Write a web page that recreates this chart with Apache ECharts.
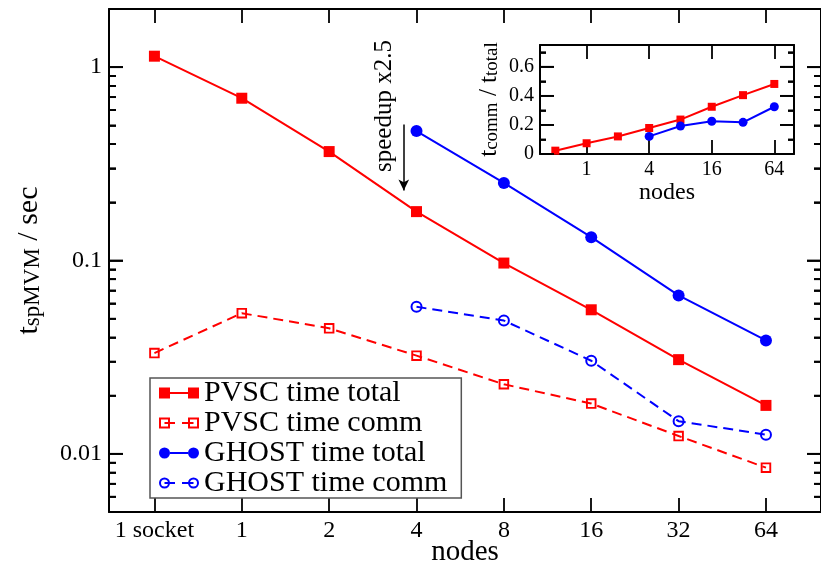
<!DOCTYPE html>
<html>
<head>
<meta charset="utf-8">
<script src="https://cdn.jsdelivr.net/npm/echarts@6/dist/echarts.min.js"></script>
<style>
  html, body { margin: 0; padding: 0; background: #fff; }
  #chart { width: 821px; height: 572px; }
</style>
</head>
<body>
<div id="chart"></div>
<script>
// ---- data ----
const nodeLabels = ['1 socket', '1', '2', '4', '8', '16', '32', '64'];
const pvscTotal  = [1.14, 0.691, 0.366, 0.179, 0.097, 0.0556, 0.0307, 0.0178];
const pvscComm   = [0.0332, 0.0534, 0.0446, 0.0322, 0.0229, 0.0182, 0.01236, 0.00848];
const ghostTotal = [null, null, null, 0.467, 0.252, 0.132, 0.066, 0.0386];
const ghostComm  = [null, null, null, 0.0576, 0.0489, 0.0303, 0.01475, 0.01256];

// inset: node count (one socket = half a node) vs. t_comm / t_total
const insetNodes = [0.5, 1, 2, 4, 8, 16, 32, 64];
const pvscRatio  = [0.023, 0.074, 0.121, 0.179, 0.237, 0.325, 0.405, 0.482];
const ghostRatio = [null, null, null, 0.121, 0.193, 0.225, 0.218, 0.325];

// tick positions
const mainXTicks  = [0, 1, 2, 3, 4, 5, 6, 7];
const mainYMajor  = [0.01, 0.1, 1];
const insetXTicks = [1, 4, 16, 64];
const insetYMajor = [0, 0.2, 0.4, 0.6];
const insetYMinor = [0.1, 0.3, 0.5, 0.7];

// speedup arrow (data coordinates of the main plot)
const arrowX = 2.854, arrowFrom = 0.505, arrowTo = 0.23;

// ---- axis ranges ----
const MAIN_X = [-0.52, 7.63], MAIN_Y = [0.005, 2];
const INSET_X = [0.356, 99], INSET_Y = [0, 0.75];

// ---- helpers ----
const serif = '"Liberation Serif", "Times New Roman", serif';
const RED = '#ff0000', BLUE = '#0000ff';

const mainYMinor = [];
[0.001, 0.01, 0.1, 1].forEach(d => {
  for (let k = 2; k <= 9; k++) {
    const v = +(d * k).toPrecision(3);
    if (v >= MAIN_Y[0] && v <= MAIN_Y[1]) mainYMinor.push(v);
  }
});

const line = () => ({ show: true, onZero: false, lineStyle: { color: '#000', width: 2 } });
const noLine = () => ({ show: false, onZero: false });
function ticks(values, len) {
  return { show: true, inside: true, length: len, customValues: values.slice(),
           lineStyle: { color: '#000', width: 1.8 } };
}
const noLabel = () => ({ show: false });
const noSplit = () => ({ show: false });

// y-axis tick marks on both frame sides: [x at frame edge, value, length, direction]
function frameTicks(xRange, major, minor, majLen, minLen) {
  const out = [];
  [[xRange[0], 1], [xRange[1], -1]].forEach(([x, dir]) => {
    major.forEach(v => out.push([x, v, majLen, dir]));
    minor.forEach(v => out.push([x, v, minLen, dir]));
  });
  return out;
}
function tickRenderer(params, api) {
  const p = api.coord([api.value(0), api.value(1)]);
  const len = api.value(2), dir = api.value(3);
  return { type: 'rect', silent: true,
           shape: { x: dir > 0 ? p[0] : p[0] - len, y: p[1] - 0.9, width: len, height: 1.8 },
           style: { fill: '#000' } };
}

function logY(grid, pos, extra) {
  return Object.assign({ gridIndex: grid, type: 'log', logBase: 10, position: pos,
    min: MAIN_Y[0], max: MAIN_Y[1], splitLine: noSplit(), minorTick: { show: false },
    minorSplitLine: { show: false } }, extra);
}
function linY(grid, pos, extra) {
  return Object.assign({ gridIndex: grid, type: 'value', position: pos,
    min: INSET_Y[0], max: INSET_Y[1], splitLine: noSplit(), minorSplitLine: { show: false } }, extra);
}

const hollowSquare = 'path://M0,0H10V10H0Z M1.8,1.8V8.2H8.2V1.8Z';
const hollowCircle = 'path://M0,6A6,6 0 1,1 12,6A6,6 0 1,1 0,6Z M2,6A4,4 0 1,0 10,6A4,4 0 1,0 2,6Z';

// legend icons: symbol - line - symbol
const iconFilledSquare = 'path://M0,0H11V11H0Z M11,4.5H29V6.5H11Z M29,0H40V11H29Z';
const iconHollowSquare = 'path://M0,0H11V11H0Z M2,2V9H9V2Z M5.5,4.5H16V6.5H5.5Z M23,4.5H34.5V6.5H23Z M29,0H40V11H29Z M31,2V9H38V2Z';
const iconFilledCircle = 'path://M0,5.5A5.5,5.5 0 1,1 11,5.5A5.5,5.5 0 1,1 0,5.5Z M11,4.5H29V6.5H11Z M29,5.5A5.5,5.5 0 1,1 40,5.5A5.5,5.5 0 1,1 29,5.5Z';
const iconHollowCircle = 'path://M0,5.5A5.5,5.5 0 1,1 11,5.5A5.5,5.5 0 1,1 0,5.5Z M2,5.5A3.5,3.5 0 1,0 9,5.5A3.5,3.5 0 1,0 2,5.5Z M5.5,4.5H16V6.5H5.5Z M23,4.5H34.5V6.5H23Z M29,5.5A5.5,5.5 0 1,1 40,5.5A5.5,5.5 0 1,1 29,5.5Z M31,5.5A3.5,3.5 0 1,0 38,5.5A3.5,3.5 0 1,0 31,5.5Z';

const pairs = arr => arr.map((v, i) => [i, v]).filter(p => p[1] != null);
const insetPairs = arr => arr.map((v, i) => [insetNodes[i], v]).filter(p => p[1] != null);

const txt = { color: '#000', fontFamily: serif };

const chart = echarts.init(document.getElementById('chart'), null, { renderer: 'canvas' });

chart.setOption({
  animation: false,
  backgroundColor: '#fff',
  grid: [
    { left: 104, top: 9, width: 726, height: 508 },
    { left: 540, top: 45, width: 254, height: 109 }
  ],
  xAxis: [
    { gridIndex: 0, type: 'value', position: 'bottom', min: MAIN_X[0], max: MAIN_X[1],
      axisLine: line(), axisTick: ticks(mainXTicks, 14), splitLine: noSplit(),
      axisLabel: { customValues: mainXTicks.slice(), formatter: v => nodeLabels[v],
                   fontSize: 24, margin: 7, ...txt },
      name: 'nodes', nameLocation: 'middle', nameGap: 26, nameMoveOverlap: false,
      nameTextStyle: { fontSize: 29, ...txt } },
    { gridIndex: 0, type: 'value', position: 'top', min: MAIN_X[0], max: MAIN_X[1],
      axisLine: line(), axisTick: ticks(mainXTicks, 14), axisLabel: noLabel(), splitLine: noSplit() },
    { gridIndex: 1, type: 'log', logBase: 2, position: 'bottom', min: INSET_X[0], max: INSET_X[1],
      axisLine: line(), axisTick: ticks(insetXTicks, 14), splitLine: noSplit(), minorTick: { show: false },
      axisLabel: { customValues: insetXTicks.slice(), formatter: v => String(Math.round(v)),
                   fontSize: 20, margin: 6, ...txt },
      name: 'nodes', nameLocation: 'middle', nameGap: 26,
      nameTextStyle: { fontSize: 24, ...txt } },
    { gridIndex: 1, type: 'log', logBase: 2, position: 'top', min: INSET_X[0], max: INSET_X[1],
      axisLine: line(), axisTick: ticks(insetXTicks, 14), axisLabel: noLabel(), splitLine: noSplit(),
      minorTick: { show: false } }
  ],
  yAxis: [
    // main plot, log scale: labelled frame side with major ticks
    logY(0, 'left', {
      axisLine: line(), axisTick: ticks(mainYMajor, 14),
      axisLabel: { customValues: mainYMajor.slice(), formatter: v => String(v), fontSize: 24, margin: 7, ...txt },
      name: '{t|t}{s|spMVM}{m| / sec}', nameLocation: 'middle', nameGap: 65,
      nameTextStyle: { ...txt, fontSize: 30,
        rich: {
          t: { fontSize: 30, fontFamily: serif, color: '#000', verticalAlign: 'top', lineHeight: 30 },
          m: { fontSize: 30, fontFamily: serif, color: '#000', verticalAlign: 'top', lineHeight: 30 },
          s: { fontSize: 23, fontFamily: serif, color: '#000', verticalAlign: 'bottom', lineHeight: 23,
               padding: [13, 0, 0, 0] }
        } } }),
    logY(0, 'left',  { axisLine: noLine(), axisTick: ticks(mainYMinor, 7), axisLabel: noLabel() }),
    logY(0, 'right', { axisLine: line(),   axisTick: ticks(mainYMajor, 14), axisLabel: noLabel() }),
    logY(0, 'right', { axisLine: noLine(), axisTick: ticks(mainYMinor, 7), axisLabel: noLabel() }),
    // inset, linear scale
    linY(1, 'left', {
      axisLine: line(), axisTick: ticks(insetYMajor, 14),
      axisLabel: { customValues: insetYMajor.slice(), formatter: v => String(+v.toFixed(1)),
                   fontSize: 20, margin: 6, ...txt },
      name: '{t|t}{s|comm}{m| / }{t|t}{s|total}', nameLocation: 'middle', nameGap: 38,
      nameTextStyle: { ...txt, fontSize: 25,
        rich: {
          t: { fontSize: 25, fontFamily: serif, color: '#000', verticalAlign: 'top', lineHeight: 25 },
          m: { fontSize: 25, fontFamily: serif, color: '#000', verticalAlign: 'top', lineHeight: 25 },
          s: { fontSize: 19, fontFamily: serif, color: '#000', verticalAlign: 'bottom', lineHeight: 19,
               padding: [11, 0, 0, 0] }
        } } }),
    linY(1, 'left',  { axisLine: noLine(), axisTick: ticks(insetYMinor, 6), axisLabel: noLabel() }),
    linY(1, 'right', { axisLine: line(),   axisTick: ticks(insetYMajor, 14), axisLabel: noLabel() }),
    linY(1, 'right', { axisLine: noLine(), axisTick: ticks(insetYMinor, 6), axisLabel: noLabel() })
  ],
  legend: {
    orient: 'vertical', left: 150, top: 378,
    padding: [0, 14, 0, 9], itemGap: 0,
    itemWidth: 40, itemHeight: 11,
    backgroundColor: '#fff', borderColor: '#555', borderWidth: 1.5,
    selectedMode: false,
    textStyle: { fontSize: 30, lineHeight: 30, ...txt },
    data: [
      { name: 'PVSC time total', icon: iconFilledSquare },
      { name: 'PVSC time comm',  icon: iconHollowSquare },
      { name: 'GHOST time total', icon: iconFilledCircle },
      { name: 'GHOST time comm',  icon: iconHollowCircle }
    ]
  },
  graphic: [
    { type: 'text', x: 384, y: 106, rotation: Math.PI / 2,
      style: { text: 'speedup x2.5', fontSize: 25, fontFamily: serif, fill: '#000',
               align: 'center', verticalAlign: 'middle' } }
  ],
  series: [
    { name: 'PVSC time total', type: 'line', xAxisIndex: 0, yAxisIndex: 0,
      data: pairs(pvscTotal), color: RED, symbol: 'rect', symbolSize: 11, showAllSymbol: true,
      lineStyle: { width: 2, color: RED }, itemStyle: { color: RED, borderWidth: 0 },
      markLine: { silent: true, animation: false, symbol: ['none', 'arrow'], symbolSize: [8, 11],
        lineStyle: { color: '#000', width: 1.5, type: 'solid' }, label: { show: false },
        data: [[{ coord: [arrowX, arrowFrom] }, { coord: [arrowX, arrowTo] }]] } },
    { name: 'PVSC time comm', type: 'line', xAxisIndex: 0, yAxisIndex: 0,
      data: pairs(pvscComm), color: RED, symbol: hollowSquare, symbolSize: 10.5, showAllSymbol: true,
      lineStyle: { width: 2, color: RED, type: [10, 6] }, itemStyle: { color: RED, borderWidth: 0 } },
    { name: 'GHOST time total', type: 'line', xAxisIndex: 0, yAxisIndex: 0,
      data: pairs(ghostTotal), color: BLUE, symbol: 'circle', symbolSize: 12, showAllSymbol: true,
      lineStyle: { width: 2, color: BLUE }, itemStyle: { color: BLUE, borderWidth: 0 } },
    { name: 'GHOST time comm', type: 'line', xAxisIndex: 0, yAxisIndex: 0,
      data: pairs(ghostComm), color: BLUE, symbol: hollowCircle, symbolSize: 12, showAllSymbol: true,
      lineStyle: { width: 2, color: BLUE, type: [10, 6] }, itemStyle: { color: BLUE, borderWidth: 0 } },
    { name: 'PVSC ratio', type: 'line', xAxisIndex: 2, yAxisIndex: 4,
      data: insetPairs(pvscRatio), color: RED, symbol: 'rect', symbolSize: 8, showAllSymbol: true,
      lineStyle: { width: 2, color: RED }, itemStyle: { color: RED, borderWidth: 0 } },
    { name: 'GHOST ratio', type: 'line', xAxisIndex: 2, yAxisIndex: 4,
      data: insetPairs(ghostRatio), color: BLUE, symbol: 'circle', symbolSize: 9, showAllSymbol: true,
      lineStyle: { width: 2, color: BLUE }, itemStyle: { color: BLUE, borderWidth: 0 } },

    // y tick marks (major + minor) on both frame sides, drawn through the axis scales
    { name: 'main y ticks', type: 'custom', xAxisIndex: 0, yAxisIndex: 0, silent: true, clip: false, z: 5,
      encode: { x: 0, y: 1 }, renderItem: tickRenderer,
      data: frameTicks(MAIN_X, mainYMajor, mainYMinor, 14, 7) },
    { name: 'inset y ticks', type: 'custom', xAxisIndex: 2, yAxisIndex: 4, silent: true, clip: false, z: 5,
      encode: { x: 0, y: 1 }, renderItem: tickRenderer,
      data: frameTicks(INSET_X, insetYMajor, insetYMinor, 14, 6) }
  ]
});
</script>
</body>
</html>
